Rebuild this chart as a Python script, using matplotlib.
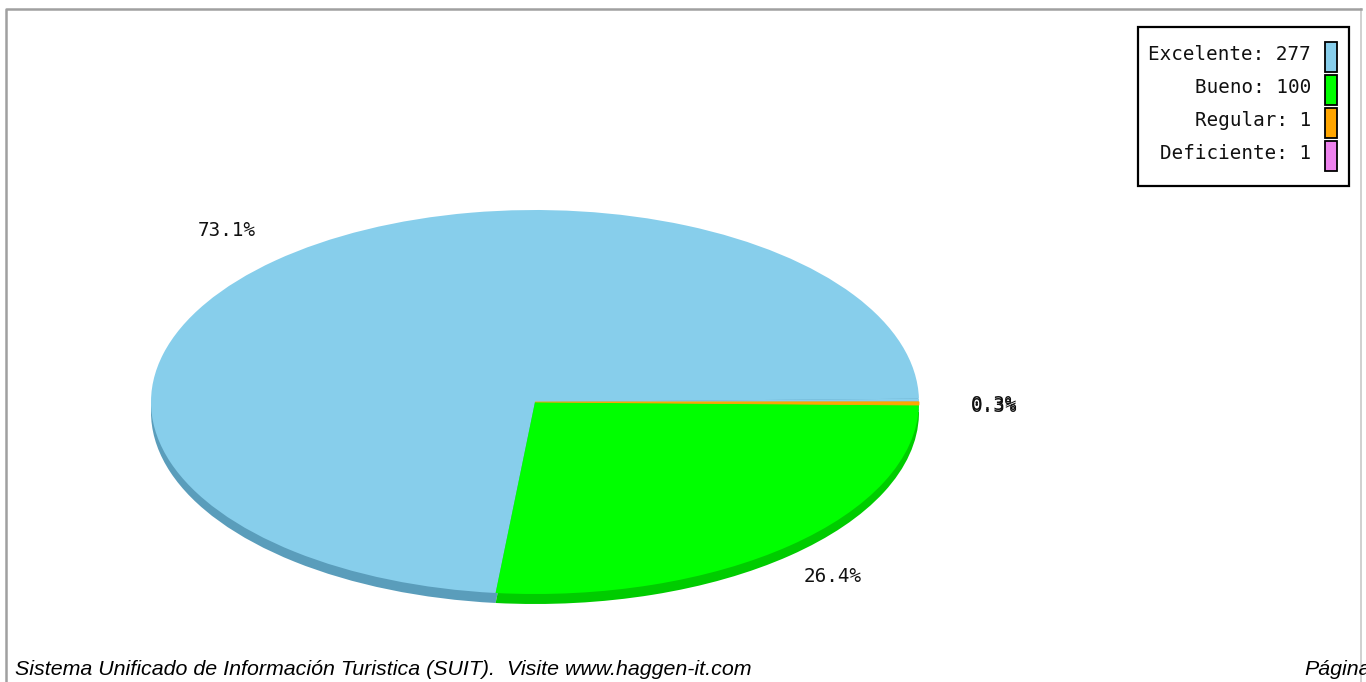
import matplotlib
matplotlib.use('Agg')
import matplotlib.pyplot as plt
from matplotlib.patches import Rectangle

categories = ['Excelente', 'Bueno', 'Regular', 'Deficiente']
values = [277, 100, 1, 1]
colors = ['#87CEEB', '#00FF00', '#FFA500', '#EE82EE']
# the last slice does not show in the pie, it is lost under the blue one
pie_colors = ['#87CEEB', '#00FF00', '#FFA500', '#87CEEB']
dark_colors = ['#5A9DBB', '#00CC00', '#00CC00', '#5A9DBB']
footer_left = 'Sistema Unificado de Información Turistica (SUIT).  Visite www.haggen-it.com'
footer_right = 'Página'

W, H = 1366, 682
total = sum(values)
pct = [100 * v / total for v in values]

fig = plt.figure(figsize=(W / 100, H / 100), dpi=100, facecolor='white')

# page layer in pixel coordinates
bg = fig.add_axes([0, 0, 1, 1])
bg.set_xlim(0, W)
bg.set_ylim(H, 0)
bg.axis('off')
bg.plot([1361, 1361], [9, H], color='#c8c8c8', lw=1.2)
bg.plot([6, 6, 1361], [H, 9, 9], color='#a0a0a0', lw=1.8)


def pie_axes(left, top, right, bottom, cols):
    ax = fig.add_axes([left / W, 1 - bottom / H, (right - left) / W, (bottom - top) / H])
    wedges, _ = ax.pie(values, colors=cols, startangle=1, counterclock=True, radius=1,
                       wedgeprops={'linewidth': 0})
    ax.set_aspect('auto')
    ax.set_xlim(-1, 1)
    ax.set_ylim(-1, 1)
    ax.axis('off')
    return wedges


# the 3d edge is the same pie a few pixels lower
pie_axes(151, 220, 919, 604, dark_colors)
wedges = pie_axes(151, 210, 919, 594, pie_colors)
wedges[2].set_edgecolor(colors[2])
wedges[2].set_linewidth(0.6)
wedges[2].set_zorder(5)

top = fig.add_axes([0, 0, 1, 1])
top.set_xlim(0, W)
top.set_ylim(H, 0)
top.axis('off')
top.patch.set_alpha(0)

mono = 'DejaVu Sans Mono'
fs = 13.9
top.text(227, 230, f'{pct[0]:.1f}%', family=mono, fontsize=fs, ha='center', va='center', color='#111111')
top.text(833, 577, f'{pct[1]:.1f}%', family=mono, fontsize=fs, ha='center', va='center', color='#111111')
top.text(994, 405, f'{pct[2]:.1f}%', family=mono, fontsize=fs, ha='center', va='center', color='#111111')
top.text(994, 406, f'{pct[3]:.1f}%', family=mono, fontsize=fs, ha='center', va='center', color='#111111')

# legend
top.add_patch(Rectangle((1138, 27), 211, 159, fc='white', ec='black', lw=1.6))
swatch_y = [42, 75, 108, 141]
for name, v, c, y in zip(categories, values, colors, swatch_y):
    top.text(1311, y + 18, f'{name}: {v}', family=mono, fontsize=fs, ha='right', va='baseline', color='#111111')
    top.add_patch(Rectangle((1325, y), 12, 29.5, fc=c, ec='black', lw=1.3))

top.text(15, 675, footer_left, family='Liberation Sans', style='italic', fontsize=15.4,
         ha='left', va='baseline', color='black')
top.text(1304, 675, footer_right, family='Liberation Sans', style='italic', fontsize=15.4,
         ha='left', va='baseline', color='black')

fig.savefig('out.png', dpi=100, facecolor='white')
